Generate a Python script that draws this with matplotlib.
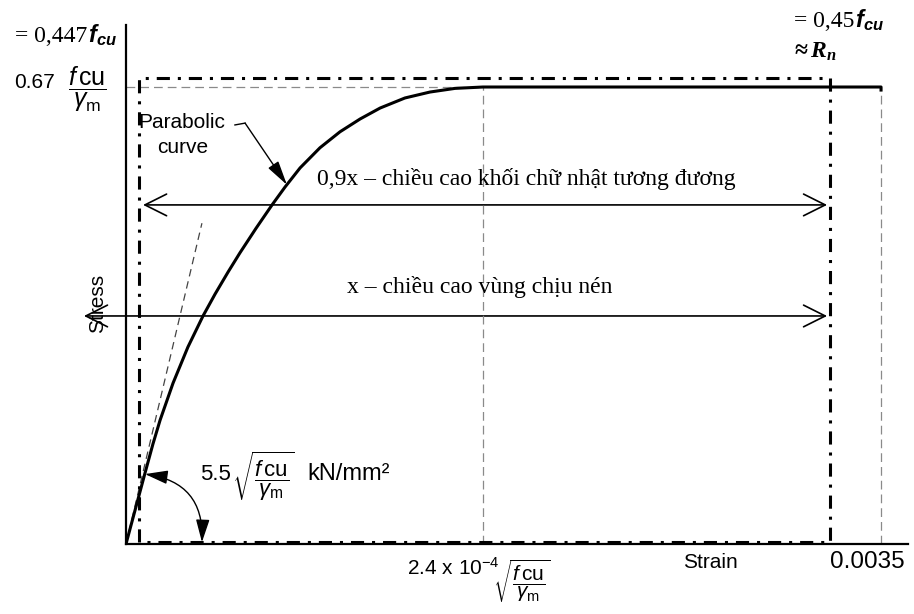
import numpy as np
import matplotlib.pyplot as plt
from matplotlib.patches import FancyArrowPatch

plt.rcParams['font.family'] = ['Liberation Sans', 'DejaVu Sans']
plt.rcParams['mathtext.fontset'] = 'custom'
plt.rcParams['mathtext.rm'] = 'Liberation Sans'
plt.rcParams['mathtext.it'] = 'Liberation Sans:italic'
plt.rcParams['mathtext.bf'] = 'Liberation Serif:bold:italic'
plt.rcParams['mathtext.bfit'] = 'Liberation Sans:bold:italic'

# stress-strain curve
# strain in per mille, stress as a fraction of 0.67 fcu/gamma_m
strain = [0, 0.042, 0.088, 0.125, 0.158, 0.218, 0.287, 0.357, 0.413, 0.473,
          0.528, 0.603, 0.677, 0.737, 0.807, 0.899, 0.992, 1.085, 1.178,
          1.293, 1.409, 1.525, 1.655]
stress = [0, 0.074, 0.155, 0.219, 0.271, 0.352, 0.431, 0.499, 0.547, 0.595,
          0.637, 0.691, 0.742, 0.781, 0.823, 0.867, 0.902, 0.930, 0.954,
          0.976, 0.989, 0.997, 1.0]
eps_0 = 1.655    # end of parabolic part
eps_cu = 3.5     # ultimate strain 0.0035
tangent_strain = [0, 0.352]
tangent_stress = [0, 0.702]
block_strain = [0.060, 3.264]   # equivalent rectangular block (0.9x)
block_top = 1.020
arrow_09x = [0.079, 3.25, 0.742]  # from, to, level
arrow_x = [-0.195, 3.25, 0.499]

frac = r'\dfrac{f\,\mathrm{cu}}{\gamma_{\mathrm{m}}}'

fig = plt.figure(figsize=(9.14, 6.14), dpi=100)
ax = fig.add_axes([126 / 914, 70 / 614, 782 / 914, 519 / 614])
ax.set_xlim(0, 3.625)
ax.set_ylim(0, 1.1357)
for s in ['top', 'right']:
    ax.spines[s].set_visible(False)
for s in ['left', 'bottom']:
    ax.spines[s].set_linewidth(1.6)
ax.set_xticks([])
ax.set_yticks([])

# guide lines
grey = '#8a8a8a'
ax.plot([0, eps_0], [1, 1], color=grey, lw=0.9, dashes=(7, 4))
ax.plot([eps_0, eps_0], [0, 1], color=grey, lw=0.9, dashes=(7, 4))
ax.plot([eps_cu, eps_cu], [0, 1], color=grey, lw=0.9, dashes=(7, 4))
ax.plot(tangent_strain, tangent_stress, color='#444444', lw=0.9, dashes=(6, 4))

# main curve + plateau
ax.plot(strain + [eps_cu, eps_cu], stress + [1.0, 0.99], color='k', lw=2.2,
        solid_joinstyle='round', solid_capstyle='butt')

# rectangular block outline
bx = [block_strain[0], block_strain[0], block_strain[1], block_strain[1], block_strain[0]]
by = [0.004, block_top, block_top, 0.004, 0.004]
ax.plot(bx, by, color='k', lw=2.2, dashes=(4.3, 2.6, 1.0, 2.6), clip_on=False)

# double arrows
for a in [arrow_09x, arrow_x]:
    ax.add_patch(FancyArrowPatch((a[0], a[2]), (a[1], a[2]),
                                 arrowstyle='<->,head_length=1.2,head_width=0.6',
                                 mutation_scale=13, lw=1.2, color='k',
                                 shrinkA=0, shrinkB=0, clip_on=False))

# angle arc for initial modulus
ax.add_patch(FancyArrowPatch((0.088, 0.153), (0.352, 0.004),
                             connectionstyle='arc3,rad=-0.45',
                             arrowstyle='<|-|>,head_length=1.0,head_width=0.3',
                             mutation_scale=14, lw=1.0, color='k',
                             shrinkA=0, shrinkB=0))

# parabolic curve leader
ax.plot([0.505, 0.552], [0.917, 0.921], color='k', lw=1.0)
ax.annotate('', xy=(0.746, 0.786), xytext=(0.552, 0.921),
            arrowprops=dict(arrowstyle='-|>,head_length=1.0,head_width=0.25',
                            lw=1.0, color='k', shrinkA=0, shrinkB=0,
                            mutation_scale=15))

# texts
ax.text(0.056, 0.910, 'Parabolic', fontsize=15, va='baseline')
ax.text(0.144, 0.856, 'curve', fontsize=15, va='baseline')
ax.text(-0.130, 0.527, 'Stress', rotation=90, ha='center', va='center', fontsize=15)
ax.text(2.582, -0.0525, 'Strain', fontsize=15, va='baseline')
ax.text(3.264, -0.0525, '0.0035', fontsize=17.5, va='baseline')

# strain at end of parabola
ax.text(1.303, -0.068, r'$2.4\ \mathrm{x}\ 10^{-4}$', fontsize=15, va='baseline')
ax.text(1.700, -0.030, r'$\sqrt{' + frac + '}$', fontsize=15, va='top')

# initial modulus
ax.text(0.343, 0.140, '5.5', fontsize=16, va='baseline')
ax.text(0.491, 0.206, r'$\sqrt{' + frac + '}$', fontsize=16, va='top')
ax.text(0.839, 0.140, 'kN/mm²', fontsize=17, va='baseline')

# design stress level
ax.text(-0.329, 0.998, '0.67', ha='right', va='baseline', fontsize=15)
ax.text(-0.181, 0.996, '$' + frac + '$', ha='center', va='center', fontsize=18)

serif = 'Liberation Serif'
ax.text(0.885, 0.786, '0,9x – chiều cao khối chữ nhật tương đương', family=serif,
        fontsize=17, va='baseline')
ax.text(1.025, 0.549, 'x – chiều cao vùng chịu nén', family=serif,
        fontsize=17, va='baseline')

ax.text(-0.181, 1.098, '= 0,447', family=serif, fontsize=17, ha='right', va='baseline')
ax.text(-0.176, 1.098, r'$\mathbfit{f}_{\mathbfit{cu}}$', fontsize=17, va='baseline')
ax.text(3.375, 1.131, '= 0,45', family=serif, fontsize=17, ha='right', va='baseline')
ax.text(3.380, 1.131, r'$\mathbfit{f}_{\mathbfit{cu}}$', fontsize=17, va='baseline')
ax.text(3.101, 1.066, '≈', family=serif, fontweight='bold', fontsize=17, va='baseline')
ax.text(3.17, 1.066, r'$\mathbf{R}_{\mathbf{n}}$', fontsize=17, va='baseline')

fig.savefig('out.png', dpi=100, facecolor='white')
